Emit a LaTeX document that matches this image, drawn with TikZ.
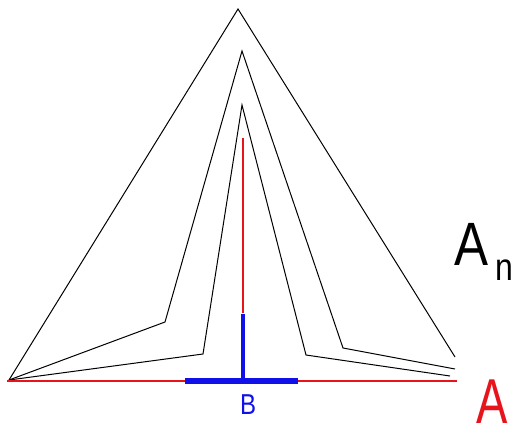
\documentclass[tikz,border=0pt]{standalone}
\usepackage{fontspec}
\setmainfont{Liberation Sans}
\usepackage{tikz}
\usetikzlibrary{positioning, calc}
\definecolor{redline}{HTML}{E8141C}
\definecolor{blueline}{HTML}{1010E8}

\begin{document}
\begin{tikzpicture}[x=1pt, y=-1pt,
    poly/.style={draw=black, line width=1pt, line join=miter},
    base/.style={draw=redline, line width=2.8pt},
    stem/.style={draw=redline, line width=2.6pt},
    bar/.style={draw=blueline, line width=6.5pt},
    post/.style={draw=blueline, line width=4.5pt},
    lbl/.style={inner sep=0pt, anchor=base west}
]
\useasboundingbox (0,0) rectangle (518,428);
% common corner and apexes
\coordinate (o) at (9,380);
\coordinate (top1) at (238,9);
\coordinate (top2) at (242,51);
\coordinate (top3) at (242,105);
\coordinate (foot) at (243,381);
\coordinate (joint) at (243,313);
\coordinate (tip) at (243,138);

% the three broken lines
\draw[poly] (o) -- (top1) -- (455,357);
\draw[poly] (o) -- (165,322) -- (top2) -- (343,348) -- (455,369);
\draw[poly] (o) -- (203,354) -- (top3) -- (306,355) -- (450,376);

% red set A and its stem
\draw[base] (7,381) -- (457,381);
\draw[stem] (joint) -- (tip);

% blue set B
\draw[bar] (185,381) -- (298,381);
\draw[post] (foot) -- ([yshift=-1pt]joint);

\node[lbl, text=blueline] (b) at (240,414) {\scalebox{1}[1.2]{\fontsize{24}{24}\selectfont B}};
\node[lbl, text=redline] (a) at (476,423) {\scalebox{1}[1.35]{\fontsize{47}{47}\selectfont A}};
\node[lbl] (an) at (454,265) {\scalebox{1}[1.2]{\fontsize{51}{51}\selectfont A\kern7pt\raisebox{-12.5pt}{\fontsize{32}{32}\selectfont n}}};
\end{tikzpicture}
\end{document}
